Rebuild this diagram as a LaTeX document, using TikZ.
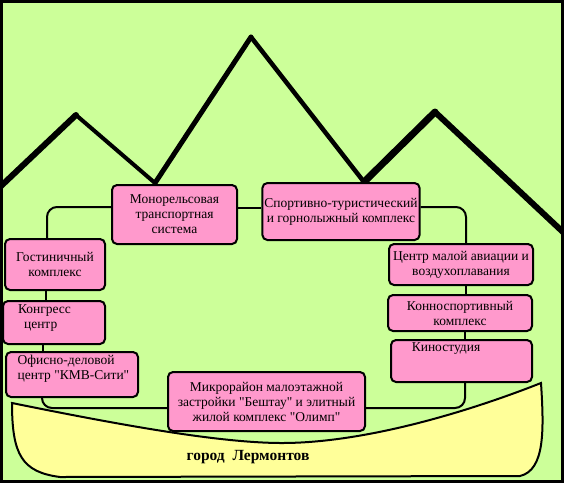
\documentclass[tikz,border=0pt]{standalone}
\usepackage{fontspec}
\setmainfont{Liberation Serif}
\usetikzlibrary{calc}
\definecolor{meadow}{HTML}{CCFF99}
\definecolor{boxpink}{HTML}{FF99CC}
\definecolor{townyellow}{HTML}{FFFF99}

\begin{document}
\begin{tikzpicture}[x=1pt, y=-1pt,
		zone/.style={draw=black, line width=2pt, fill=boxpink, rounded corners=5pt,
				inner sep=2pt, align=center, font=\fontsize{13.5}{15}\selectfont},
		zonetext/.style={inner sep=0pt, align=left, font=\fontsize{13.5}{15}\selectfont},
		link/.style={draw=black, line width=2pt, rounded corners=10pt}]
		\useasboundingbox (0,0) rectangle (564,483);

		% meadow and frame
		\fill[meadow] (0,0) rectangle (564,483);
		\draw[line width=3pt] (1.5,1.5) rectangle (562.5,481.5);

		% mountain ridge, every slope with its own stroke
		\foreach \xa/\ya/\xb/\yb/\w in {0/187/76/115/6, 76/115/155/183/4, 155/183/251/37/5,
				251/37/364/182/4.5, 364/182/435/112/7, 435/112/564/233/6} {
				\draw[line width=\w, line cap=round] (\xa,\ya) -- (\xb,\yb);
			}

		% the town strip at the foot
		\draw[line width=2pt, fill=townyellow] (12,403)
		.. controls (120,425) and (220,443) .. (282,443)
		.. controls (360,443) and (460,415) .. (541,383)
		.. controls (544,430) and (545,470) .. (520,476)
		-- (60,477) .. controls (22,472) and (12,455) .. cycle;
		\node[inner sep=0pt, font=\bfseries\fontsize{15.5}{18}\selectfont] (town) at (248,457) {город\ \ Лермонтов};

		% projects round the valley
		\node[zone, minimum width=125, minimum height=59] (mono) at (174.5,214.5) {Монорельсовая\\транспортная\\система};
		\node[zone, minimum width=156, minimum height=57] (sport) at (341,211.5) {Спортивно-туристический\\и горнолыжный комплекс};
		\node[zone, minimum width=100, minimum height=51] (hotel) at (55,264.5) {Гостиничный\\комплекс};
		\node[zone, minimum width=102, minimum height=43] (congress) at (54,322.5) {};
		\node[zone, minimum width=132, minimum height=45] (office) at (72,374.5) {};
		\node[zone, minimum width=197, minimum height=59] (micro) at (266.5,401.5) {Микрорайон малоэтажной\\застройки \textquotedbl Бештау\textquotedbl{} и элитный\\жилой комплекс \textquotedbl Олимп\textquotedbl};
		\node[zone, minimum width=144, minimum height=41] (avia) at (461,264.5) {Центр малой авиации и\\воздухоплавания};
		\node[zone, minimum width=144, minimum height=36] (horse) at (460,313) {Конноспортивный\\комплекс};
		\node[zone, minimum width=141, minimum height=42] (kino) at (461.5,361) {};

		% texts that sit off centre in their boxes
		\node[zonetext] (congress-txt) at (44.5,318.5) {Конгресс\\\hspace*{6pt}центр};
		\node[zonetext] (office-txt) at (73.5,369) {Офисно-деловой\\центр \textquotedbl КМВ-Сити\textquotedbl};
		\node[zonetext] (kino-txt) at (446,349) {Киностудия};

		% ring of links
		\draw[link] ([yshift=7.5]mono.west) -| ([xshift=-8]hotel.north);
		\draw[link] ([yshift=6.5]mono.east) -- ([yshift=6.5]mono.east -| sport.west);
		\draw[link] ([yshift=4.5]sport.east) -| ([xshift=5]avia.north);
		\draw[link] ([xshift=5]avia.south) -- ([xshift=5]avia.south |- horse.north);
		\draw[link] ([xshift=5]horse.south) -- ([xshift=5]horse.south |- kino.north);
		\draw[link] ([xshift=3.5]kino.south) |- ([yshift=-6.5]micro.east);
		\draw[link] ([xshift=-9]hotel.south) -- ([xshift=-9]hotel.south |- congress.north);
		\draw[link] ([xshift=-11]congress.south) -- ([xshift=-11]congress.south |- office.north);
		\draw[link] ([xshift=-30]office.south) |- ([yshift=-6.5]micro.west);
	\end{tikzpicture}
\end{document}
